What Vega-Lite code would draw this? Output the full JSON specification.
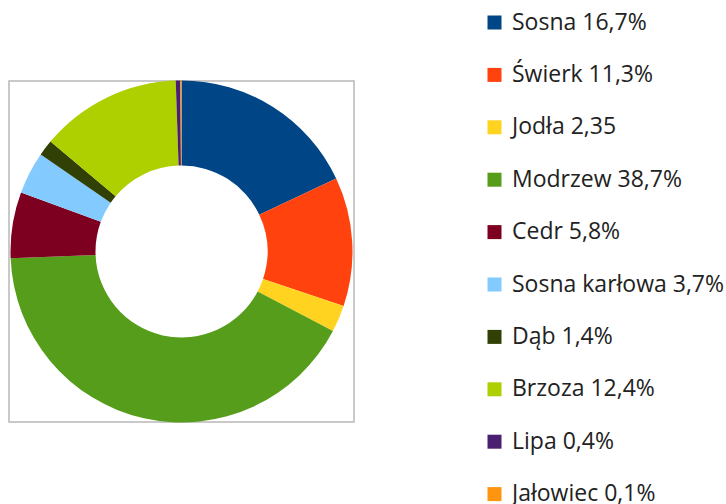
{
  "$schema": "https://vega.github.io/schema/vega-lite/v6.json",
  "width": 345,
  "height": 341,
  "autosize": "none",
  "padding": {"left": 9, "top": 81, "right": 372, "bottom": 82},
  "background": "white",
  "view": {"stroke": "#b8b8b8", "strokeWidth": 1.5},
  "data": {
    "values": [
      {"label": "Sosna 16,7%", "value": 16.7, "idx": 1},
      {"label": "Świerk 11,3%", "value": 11.3, "idx": 2},
      {"label": "Jodła 2,35", "value": 2.35, "idx": 3},
      {"label": "Modrzew 38,7%", "value": 38.7, "idx": 4},
      {"label": "Cedr 5,8%", "value": 5.8, "idx": 5},
      {"label": "Sosna karłowa 3,7%", "value": 3.7, "idx": 6},
      {"label": "Dąb 1,4%", "value": 1.4, "idx": 7},
      {"label": "Brzoza 12,4%", "value": 12.4, "idx": 8},
      {"label": "Lipa 0,4%", "value": 0.4, "idx": 9},
      {"label": "Jałowiec 0,1%", "value": 0.1, "idx": 10}
    ]
  },
  "mark": {"type": "arc", "outerRadius": 171, "innerRadius": 86},
  "encoding": {
    "theta": {"field": "value", "type": "quantitative", "stack": true},
    "order": {"field": "idx", "type": "quantitative", "sort": "ascending"},
    "color": {
      "field": "label",
      "type": "nominal",
      "scale": {
        "domain": ["Sosna 16,7%", "Świerk 11,3%", "Jodła 2,35", "Modrzew 38,7%", "Cedr 5,8%", "Sosna karłowa 3,7%", "Dąb 1,4%", "Brzoza 12,4%", "Lipa 0,4%", "Jałowiec 0,1%"],
        "range": ["#004586", "#ff420e", "#ffd320", "#579d1c", "#7e0021", "#83caff", "#314004", "#aecf00", "#4b1f6f", "#ff950e"]
      },
      "legend": {
        "title": null,
        "orient": "none",
        "legendX": 474,
        "legendY": -70,
        "padding": 0,
        "symbolType": "square",
        "symbolSize": 196,
        "symbolStrokeWidth": 0,
        "labelFont": "Open Sans",
        "labelFontSize": 23,
        "labelColor": "#222222",
        "labelOffset": 6,
        "labelLimit": 400,
        "rowPadding": 28.4,
        "symbolOffset": 0
      }
    }
  }
}
